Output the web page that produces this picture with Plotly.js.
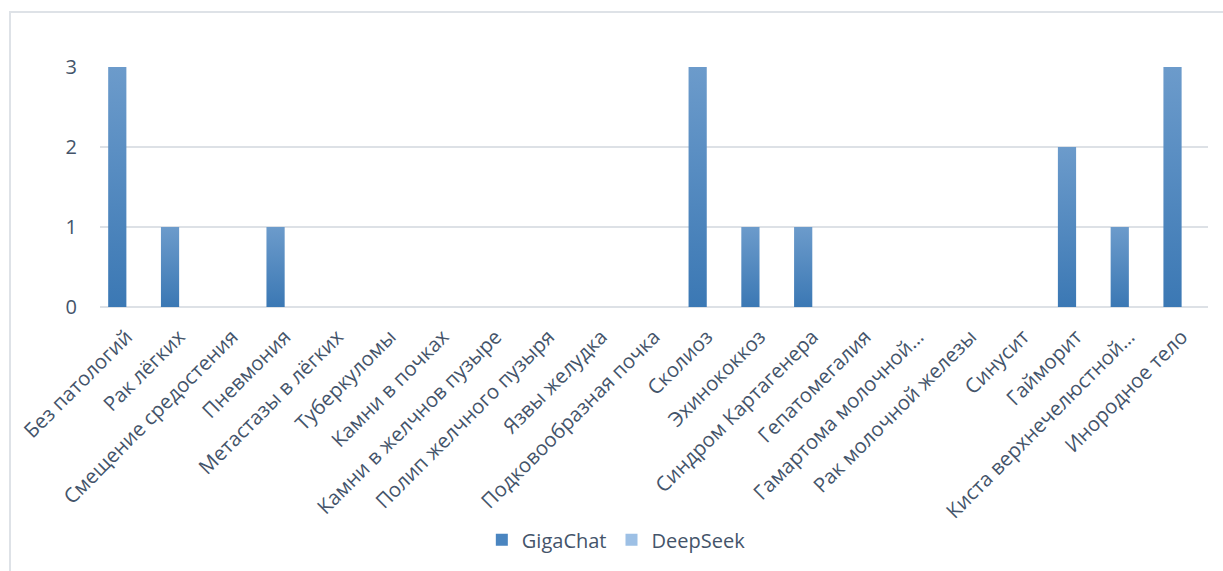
<!DOCTYPE html>
<html>
<head>
<meta charset="utf-8">
<script src="https://cdn.plot.ly/plotly-3.0.1.min.js"></script>
<style>
  html, body { margin: 0; padding: 0; background: #fff; }
  #wrap { position: relative; width: 1223px; height: 571px; overflow: hidden; }
  #frame { position: absolute; left: 9px; top: 11px; width: 1230px; height: 600px;
           border-top: 2px solid #dee2e7; border-left: 2px solid #dee2e7; box-sizing: border-box; pointer-events: none; }
  #chart { position: absolute; left: 0; top: 0; width: 1223px; height: 571px; }
</style>
</head>
<body>
<div id="wrap">
  <div id="chart"></div>
  <div id="frame"></div>
</div>
<script>
const categories = [
  "Без патологий", "Рак лёгких", "Смещение средостения", "Пневмония",
  "Метастазы в лёгких", "Туберкуломы", "Камни в почках", "Камни в желчнов пузыре",
  "Полип желчного пузыря", "Язвы желудка", "Подковообразная почка", "Сколиоз",
  "Эхинококкоз", "Синдром Картагенера", "Гепатомегалия", "Гамартома молочной…",
  "Рак молочной железы", "Синусит", "Гайморит", "Киста верхнечелюстной…", "Инородное тело"
];
const gigaChat = [3, 1, 0, 1, 0, 0, 0, 0, 0, 0, 0, 3, 1, 1, 0, 0, 0, 0, 2, 1, 3];
const deepSeek = [0, 0, 0, 0, 0, 0, 0, 0, 0, 0, 0, 0, 0, 0, 0, 0, 0, 0, 0, 0, 0];
const yTicks = [0, 1, 2, 3];

const textColor = "#44546a";
const fontFam = "'Open Sans', 'DejaVu Sans', sans-serif";

const traces = [
  { type: "bar", name: "GigaChat", x: categories, y: gigaChat,
    marker: { color: "#4a85c0" }, hoverinfo: "skip" },
  { type: "bar", name: "DeepSeek", x: categories, y: deepSeek,
    marker: { color: "#9dc0e5" }, hoverinfo: "skip" }
];

const layout = {
  width: 1223, height: 571,
  margin: { l: 100, r: 15, t: 67, b: 264 },
  paper_bgcolor: "rgba(0,0,0,0)", plot_bgcolor: "rgba(0,0,0,0)",
  barmode: "group", bargap: 0.31, bargroupgap: 0,
  font: { family: fontFam, color: textColor },
  showlegend: true,
  legend: { orientation: "h", x: 0.466, xanchor: "center", y: -0.97, yanchor: "middle",
            font: { size: 20, color: textColor, family: fontFam }, itemwidth: 30, traceorder: "normal" },
  xaxis: { type: "category", tickangle: -45, showgrid: false, zeroline: false, showline: false,
           ticks: "", ticklabelstandoff: 13,
           tickfont: { size: 20.3, color: textColor, family: fontFam }, automargin: false },
  yaxis: { range: [0, 3], tickvals: yTicks, ticktext: yTicks.map(String), showgrid: true,
           gridcolor: "#dde1e6", gridwidth: 1.5, zeroline: true, zerolinecolor: "#dde1e6", zerolinewidth: 1.5,
           showline: false, ticks: "", ticklabelstandoff: 22,
           tickfont: { size: 20, color: textColor, family: fontFam }, automargin: false }
};

Plotly.newPlot("chart", traces, layout, { staticPlot: true, displayModeBar: false }).then(function (gd) {
  const svg = gd.querySelector("svg.main-svg");
  const ns = "http://www.w3.org/2000/svg";
  let defs = svg.querySelector("defs");
  if (!defs) { defs = document.createElementNS(ns, "defs"); svg.insertBefore(defs, svg.firstChild); }
  const grad = document.createElementNS(ns, "linearGradient");
  grad.setAttribute("id", "gigaGrad");
  grad.setAttribute("x1", "0"); grad.setAttribute("y1", "0");
  grad.setAttribute("x2", "0"); grad.setAttribute("y2", "1");
  [["0", "#6c9bcb"], ["1", "#3b78b4"]].forEach(function (s) {
    const st = document.createElementNS(ns, "stop");
    st.setAttribute("offset", s[0]); st.setAttribute("stop-color", s[1]);
    grad.appendChild(st);
  });
  defs.appendChild(grad);
  const barTraces = gd.querySelectorAll(".barlayer .trace.bars");
  if (barTraces.length) {
    barTraces[0].querySelectorAll("path").forEach(function (p) { p.style.fill = "url(#gigaGrad)"; });
  }
});
</script>
</body>
</html>
